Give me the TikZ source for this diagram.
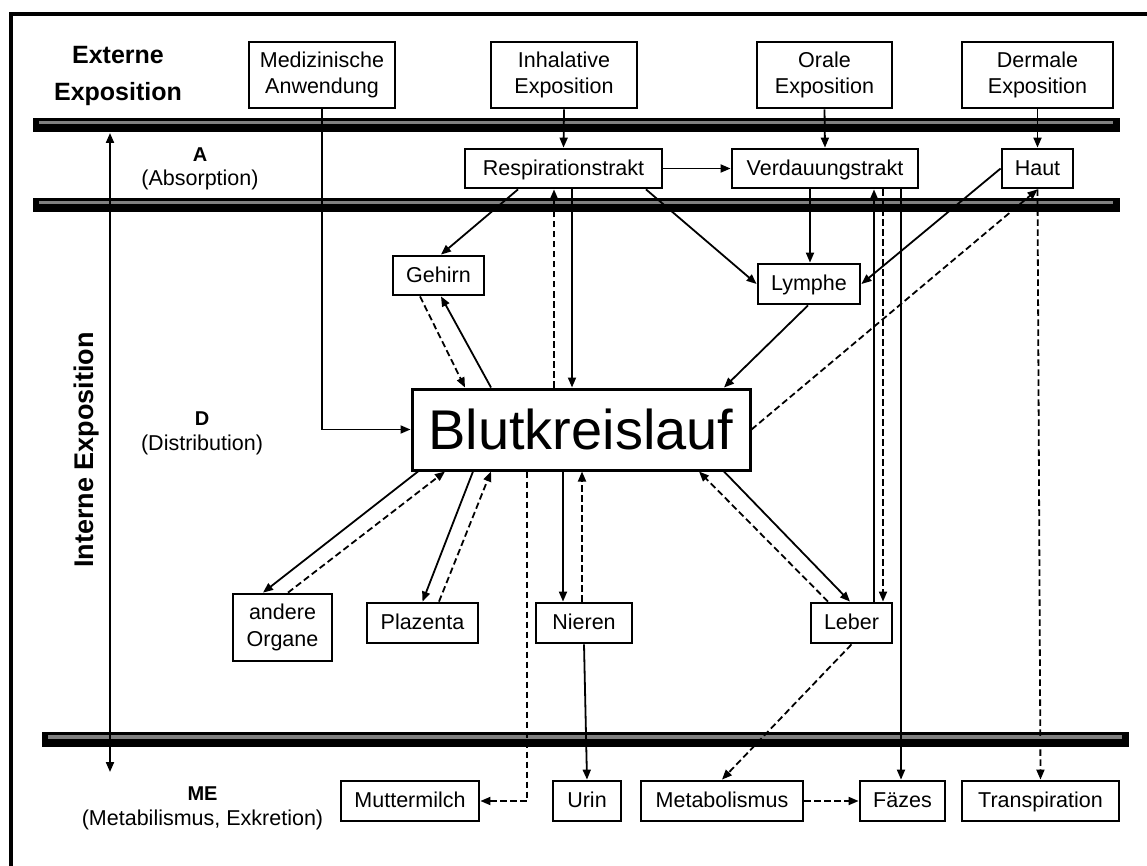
\documentclass[tikz,border=0pt]{standalone}
\usepackage{fontspec}
\setmainfont{Liberation Sans}
\usetikzlibrary{arrows.meta}
\begin{document}
\begin{tikzpicture}[x=1pt,y=-1pt,
  box/.style={draw, line width=2.8pt, inner sep=0pt, align=center, font=\fontsize{21.5}{26.5}\selectfont},
  one/.style={box, text height=15.4pt, text depth=1.5pt},
  two/.style={box, execute at begin node={\rule{0pt}{#1}}},
  conn/.style={line width=1.8pt, -{Triangle[length=10pt,width=8pt]}},
  dconn/.style={conn, dash pattern=on 6.5pt off 3.5pt},
  barbody/.style={fill=black},
  barstripe/.style={fill=black!50},
  lab/.style={align=center, inner sep=0pt, font=\fontsize{21.5}{24.5}\selectfont}
]
\useasboundingbox (0,0) rectangle (1147,866);
\fill[white] (0,0) rectangle (1147,866);
% frame
\draw[line width=4pt] (10.5,866) -- (10.5,14) -- (1147,14);
% bars
\fill[barbody] (33,118) rectangle (1120,132);
\fill[barstripe] (39,121) rectangle (1113,124.3);
\fill[barbody] (33,198) rectangle (1120,212);
\fill[barstripe] (39,201) rectangle (1113,204.3);
\fill[barbody] (42,732) rectangle (1129,747);
\fill[barstripe] (48,735) rectangle (1122,739);

% labels
\node[lab, font=\bfseries\fontsize{25}{37}\selectfont] (ext) at (118,75.5) {Externe\\Exposition};
\node[lab] (absA) at (200,169) {{\bfseries\fontsize{20}{24.5}\selectfont A}\\(Absorption)};
\node[lab] (distD) at (202,433.5) {{\bfseries\fontsize{20}{24.5}\selectfont D}\\(Distribution)};
\node[lab] (meME) at (202.5,808.5) {{\bfseries\fontsize{20}{24.5}\selectfont ME}\\(Metabilismus, Exkretion)};
\node[rotate=90, inner sep=0pt, font=\bfseries\fontsize{27}{30}\selectfont] (int) at (87,450) {Interne Exposition};
\coordinate (itop) at (110,133);
\coordinate (ibot) at (110,772);
\draw[line width=2pt, {Triangle[length=10pt,width=8pt]}-{Triangle[length=10pt,width=8pt]}] (itop) -- (ibot);

% boxes
\node[two=24pt, minimum width=146pt, minimum height=66pt] (med) at (322,75) {Medizinische\\Anwendung};
\node[two=24pt, minimum width=146pt, minimum height=66pt] (inh) at (564,75) {Inhalative\\Exposition};
\node[two=24pt, minimum width=135pt, minimum height=66pt] (ora) at (824.5,75) {Orale\\Exposition};
\node[two=24pt, minimum width=151pt, minimum height=66pt] (der) at (1037.5,75) {Dermale\\Exposition};
\node[one, minimum width=197pt, minimum height=39pt] (res) at (563.5,168.5) {Respirationstrakt};
\node[one, minimum width=186pt, minimum height=39pt] (ver) at (825,168.5) {Verdauungstrakt};
\node[one, minimum width=71pt, minimum height=39pt] (hau) at (1037.5,168.5) {Haut};
\node[one, minimum width=91pt, minimum height=39pt] (geh) at (438.5,275.5) {Gehirn};
\node[one, minimum width=102pt, minimum height=40pt] (lym) at (809,284) {Lymphe};
\node[box, line width=3pt, minimum width=338pt, minimum height=81pt, font=\fontsize{56}{60}\selectfont] (blu) at (581,429.5) {Blutkreislauf};
\node[two=20pt, minimum width=99pt, minimum height=67pt] (and) at (282.5,627.5) {andere\\Organe};
\node[one, minimum width=111pt, minimum height=40pt] (pla) at (422.5,623) {Plazenta};
\node[one, minimum width=96pt, minimum height=40pt] (nie) at (584,623) {Nieren};
\node[one, minimum width=81pt, minimum height=40pt] (leb) at (851.5,623) {Leber};
\node[one, minimum width=138pt, minimum height=40pt] (mut) at (410,801) {Muttermilch};
\node[one, minimum width=68pt, minimum height=40pt] (uri) at (587,801) {Urin};
\node[one, minimum width=162pt, minimum height=40pt] (met) at (722,801) {Metabolismus};
\node[one, minimum width=85pt, minimum height=40pt] (fae) at (902.5,801) {Fäzes};
\node[one, minimum width=157pt, minimum height=40pt] (tra) at (1040.5,801) {Transpiration};

% connectors
\draw[conn] (med.south) |- (blu.west);
\draw[conn] (inh.south) -- (res.north);
\draw[conn] (ora.south) -- (ver.north);
\draw[conn] (der.south) -- (hau.north);
\draw[conn] (res.east) -- (ver.west);
\draw[conn] ([xshift=-45.5pt]res.south) -- ([xshift=2.5pt]geh.north);
\draw[conn] ([xshift=82.5pt]res.south) -- (lym.west);
\draw[dconn] ([xshift=-27pt]blu.north) -- ([xshift=-9.5pt]res.south);
\draw[conn] ([xshift=8.5pt]res.south) -- ([xshift=-9pt]blu.north);
\draw[dconn] ([xshift=-18.5pt]geh.south) -- ([xshift=-116pt]blu.north);
\draw[conn] ([xshift=-90pt]blu.north) -- ([xshift=2.5pt]geh.south);
\draw[conn] ([xshift=-15pt]ver.south) -- ([xshift=1pt]lym.north);
\draw[conn] (hau.west) -- (lym.east);
\draw[conn] ([xshift=-1pt]lym.south) -- ([xshift=143pt]blu.north);
\draw[dconn] (blu.east) -- (hau.south);
\draw[dconn] (hau.south) -- (tra.north);
\draw[conn] ([xshift=22.5pt]leb.north) -- ([xshift=49pt]ver.south);
\draw[dconn] ([xshift=58pt]ver.south) -- ([xshift=31.5pt]leb.north);
\draw[conn] ([xshift=76pt]ver.south) -- ([xshift=-1.5pt]fae.north);
\draw[conn] ([xshift=-163pt]blu.south) -- ([xshift=-19.5pt]and.north);
\draw[dconn] ([xshift=5.5pt]and.north) -- ([xshift=-136pt]blu.south);
\draw[conn] ([xshift=-108pt]blu.south) -- (pla.north);
\draw[dconn] ([xshift=16.5pt]pla.north) -- ([xshift=-90pt]blu.south);
\draw[dconn] ([xshift=-54pt]blu.south) |- (mut.east);
\draw[conn] ([xshift=-18pt]blu.south) -- ([xshift=-21pt]nie.north);
\draw[dconn] ([xshift=-2pt]nie.north) -- ([xshift=1pt]blu.south);
\draw[conn] (nie.south) -- (uri.north);
\draw[conn] ([xshift=143pt]blu.south) -- ([xshift=-1.5pt]leb.north);
\draw[dconn] ([xshift=-23.5pt]leb.north) -- ([xshift=118pt]blu.south);
\draw[dconn] (leb.south) -- (met.north);
\draw[dconn] (met.east) -- (fae.west);
\end{tikzpicture}
\end{document}
